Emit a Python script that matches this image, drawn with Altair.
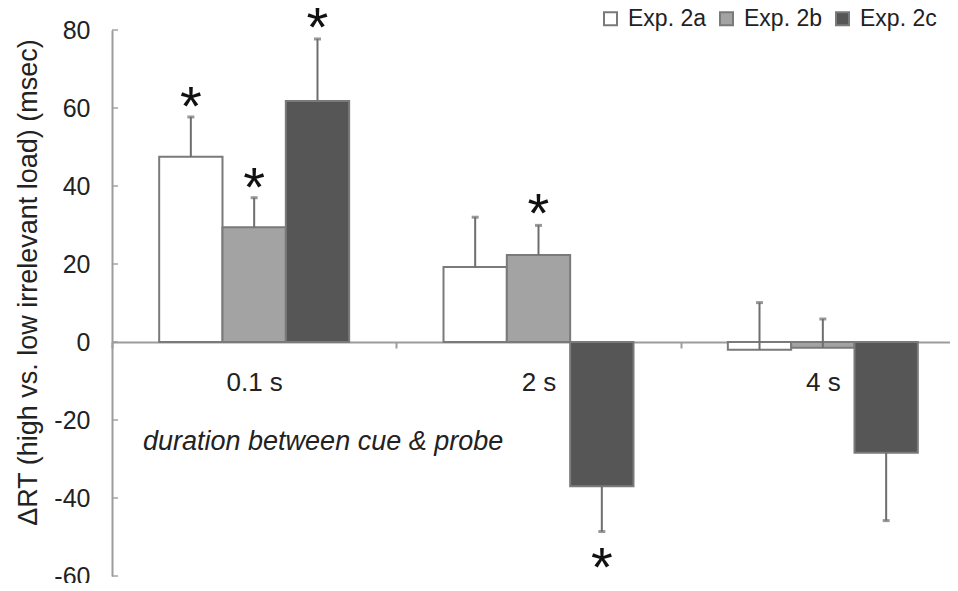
import altair as alt
import pandas as pd

durations = ["0.1 s", "2 s", "4 s"]
exps = ["Exp. 2a", "Exp. 2b", "Exp. 2c"]
mean_2a = [47.5, 19.2, -2.0]
mean_2b = [29.4, 22.3, -1.5]
mean_2c = [61.8, -37.0, -28.4]
err_2a = [57.7, 32.0, 10.1]
err_2b = [37.0, 29.9, 5.9]
err_2c = [77.7, -48.6, -45.8]
star_dur = ["0.1 s", "0.1 s", "0.1 s", "2 s", "2 s"]
star_exp = ["Exp. 2a", "Exp. 2b", "Exp. 2c", "Exp. 2b", "Exp. 2c"]
star_y = [62.3, 41.5, 82.5, 35.0, -55.8]
y_ticks = [-60, -40, -20, 0, 20, 40, 60, 80]
fills = ["#ffffff", "#a3a3a3", "#565656"]

rows = []
for e, means, errs in zip(exps, [mean_2a, mean_2b, mean_2c], [err_2a, err_2b, err_2c]):
    for d, m, r in zip(durations, means, errs):
        rows.append({"dur": d, "exp": e, "mean": m, "err": r})
df = pd.DataFrame(rows)
stars = pd.DataFrame({"dur": star_dur, "exp": star_exp, "y": star_y, "t": ["*"] * len(star_y)})
ticks = pd.DataFrame({"v": y_ticks})

FONT = "Liberation Sans"
GRAY = "#9c9c9c"
yscale = alt.Scale(domain=[-60, 80], nice=False, zero=False)

x_enc = alt.X(
    "dur:N", sort=durations, title=None,
    scale=alt.Scale(range=[0, 853], paddingInner=0, paddingOuter=0),
    axis=alt.Axis(orient="bottom", offset=-234, domainColor=GRAY, domainWidth=2,
                  tickBand="extent", tickColor=GRAY, tickWidth=2, tickSize=6,
                  labelAngle=0, labelFont=FONT, labelFontSize=26, labelColor="#222222",
                  labelPadding=21, grid=False),
)
xo_enc = alt.XOffset("exp:N", sort=exps, scale=alt.Scale(paddingInner=0, paddingOuter=0.745))

bars = alt.Chart(df).mark_bar(stroke="#7a7a7a", strokeWidth=2).encode(
    x=x_enc,
    xOffset=xo_enc,
    y=alt.Y("mean:Q", scale=yscale,
            title="ΔRT (high vs. low irrelevant load) (msec)",
            axis=alt.Axis(values=y_ticks, grid=False, ticks=False, tickSize=0,
                          domainColor=GRAY, domainWidth=2,
                          labelExpr="replace(datum.label, '\u2212', '-')",
                          labelFont=FONT, labelFontSize=25, labelColor="#222222",
                          labelPadding=22, titleFont=FONT, titleFontSize=27,
                          titleFontWeight="normal", titleColor="#222222",
                          titleX=-84, titleY=252, titleBaseline="middle")),
    fill=alt.Fill("exp:N", sort=exps, scale=alt.Scale(domain=exps, range=fills),
                  legend=alt.Legend(orient="none", legendX=487, legendY=-23,
                                    direction="horizontal", title=None,
                                    labelFont=FONT, labelFontSize=23, labelColor="#222222",
                                    symbolType="square", symbolSize=169,
                                    symbolStrokeColor="#7a7a7a", symbolStrokeWidth=2,
                                    columnPadding=9, labelOffset=6, padding=0)),
)

errs = alt.Chart(df).mark_rule(color="#6e6e6e", strokeWidth=2).encode(
    x=alt.X("dur:N", sort=durations), xOffset=xo_enc,
    y=alt.Y("mean:Q", scale=yscale), y2="err:Q",
)
caps = alt.Chart(df).mark_tick(color="#6e6e6e", size=7, thickness=3).encode(
    x=alt.X("dur:N", sort=durations), xOffset=xo_enc,
    y=alt.Y("err:Q", scale=yscale),
)
star_marks = alt.Chart(stars).mark_text(font=FONT, fontSize=56, color="#111111",
                                         baseline="alphabetic", dy=26).encode(
    x=alt.X("dur:N", sort=durations), xOffset=alt.XOffset("exp:N", sort=exps),
    y=alt.Y("y:Q", scale=yscale), text="t:N",
)
ytick_marks = alt.Chart(ticks).mark_tick(color=GRAY, size=6, thickness=2, orient="horizontal").encode(
    y=alt.Y("v:Q", scale=yscale), x=alt.value(3),
)
note = alt.Chart(pd.DataFrame({"t": ["duration between cue & probe"], "y": [-25.6]})).mark_text(
    font=FONT, fontSize=27, fontStyle="italic", color="#222222", align="left", baseline="middle"
).encode(x=alt.value(31), y=alt.Y("y:Q", scale=yscale), text="t:N")

chart = alt.layer(bars, errs, caps, star_marks, ytick_marks, note).properties(
    width=838, height=546,
    autosize=alt.AutoSizeParams(type="none"),
    padding={"left": 104, "top": 22, "right": 0, "bottom": 7},
).configure_view(stroke=None)

chart.save("out.html", embed_options={"renderer": "svg", "actions": False})
